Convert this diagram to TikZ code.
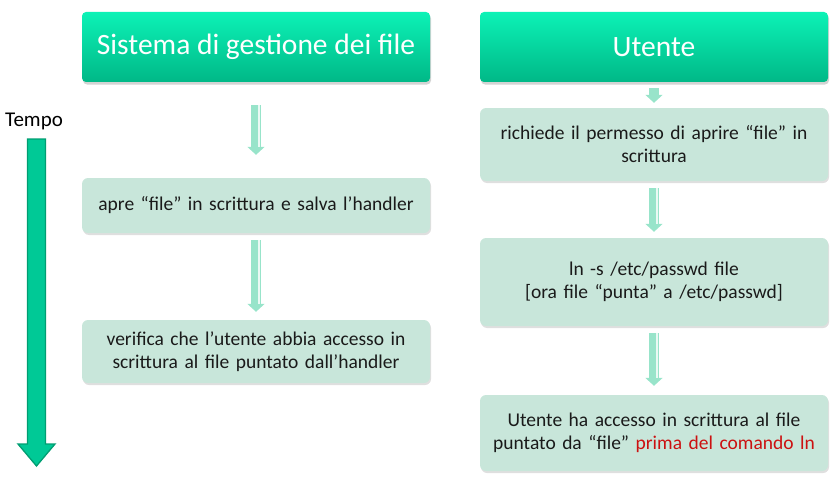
\documentclass[tikz,border=0pt]{standalone}
\usepackage{fontspec}
\setmainfont{Carlito}[WordSpace=0.6]
\newfontfamily\headfont{Carlito}
\usetikzlibrary{arrows.meta,shadows,calc}
\definecolor{hdtop}{HTML}{0CF2B6}
\definecolor{hdbot}{HTML}{00B887}
\definecolor{boxfill}{HTML}{C8E6DA}
\definecolor{mint}{HTML}{98E4CA}
\definecolor{tempofill}{HTML}{00C996}
\definecolor{tempoedge}{HTML}{009E72}
\definecolor{redtxt}{HTML}{CC1111}
\definecolor{txt}{HTML}{1A1A1A}
\tikzset{
  header/.style={rounded corners=4pt, top color=hdtop, bottom color=hdbot,
    minimum width=348pt, minimum height=70pt, text=white,
    font=\headfont\fontsize{29.5}{34}\selectfont,
    drop shadow={shadow xshift=1pt, shadow yshift=-2.5pt, opacity=0.35}},
  stepbox/.style={rounded corners=6pt, fill=boxfill, minimum width=348pt,
    text width=340pt, align=center, text=txt,
    font=\fontsize{19.5}{23}\selectfont,
    drop shadow={shadow xshift=1pt, shadow yshift=-2pt, opacity=0.25}},
  flowarrow/.style={line width=10pt, color=mint,
    -{Triangle[width=17pt,length=8pt]}},
  flowhi/.style={line width=2pt, color=white, opacity=0.8}
}
\begin{document}
\begin{tikzpicture}[x=1pt,y=-1pt]
\useasboundingbox (0,0) rectangle (838,495);
% headers
\node[header] (hL) at (256,47) {Sistema di gestione dei file};
\node[header] (hR) at (654,47) {Utente};
% left column
\node[stepbox, minimum height=55pt] (l1) at (256,205.5) {apre “file” in scrittura e salva l’handler};
\node[stepbox, minimum height=63pt] (l2) at (256,351.5) {verifica che l’utente abbia accesso in\\scrittura al file puntato dall’handler};
% right column
\node[stepbox, minimum height=73pt] (r1) at (654,144.5) {richiede il permesso di aprire “file” in\\scrittura};
\node[stepbox, minimum height=88pt] (r2) at (654,282) {ln -s /etc/passwd file\\{}[ora file “punta” a /etc/passwd]};
\node[stepbox, minimum height=76pt] (r3) at (654,433) {Utente ha accesso in scrittura al file\\puntato da “file” \textcolor{redtxt}{prima del comando ln}};
% flow arrows
\draw[flowarrow, shorten <=23pt, shorten >=23pt] (hL.south) -- (l1.north);
\draw[flowarrow, shorten <=7pt, shorten >=8pt] (l1.south) -- (l2.north);
\draw[flowarrow, shorten <=6pt, shorten >=5pt] (hR.south) -- (r1.north);
\draw[flowarrow, shorten <=7pt, shorten >=6pt] (r1.south) -- (r2.north);
\draw[flowarrow, shorten <=7pt, shorten >=9pt] (r2.south) -- (r3.north);
% highlights on flow arrows
\draw[flowhi] ($(hL.south)+(3,23)$) -- ($(l1.north)+(3,-31)$);
\draw[flowhi] ($(l1.south)+(3,7)$) -- ($(l2.north)+(3,-16)$);
\draw[flowhi] ($(r1.south)+(3,7)$) -- ($(r2.north)+(3,-14)$);
\draw[flowhi] ($(r2.south)+(3,7)$) -- ($(r3.north)+(3,-17)$);
% time axis
\node[font=\fontsize{21}{24}\selectfont, text=black] (tempo) at (34,121) {Tempo};
\coordinate (tend) at (36.5,466);
\draw[fill=tempofill, draw=tempoedge, line width=1.3pt, line join=miter]
  (27.5,139) -- (45.5,139) -- (45.5,444) -- (55,444) -- (tend) -- (18,444) -- (27.5,444) -- cycle;
\end{tikzpicture}
\end{document}
